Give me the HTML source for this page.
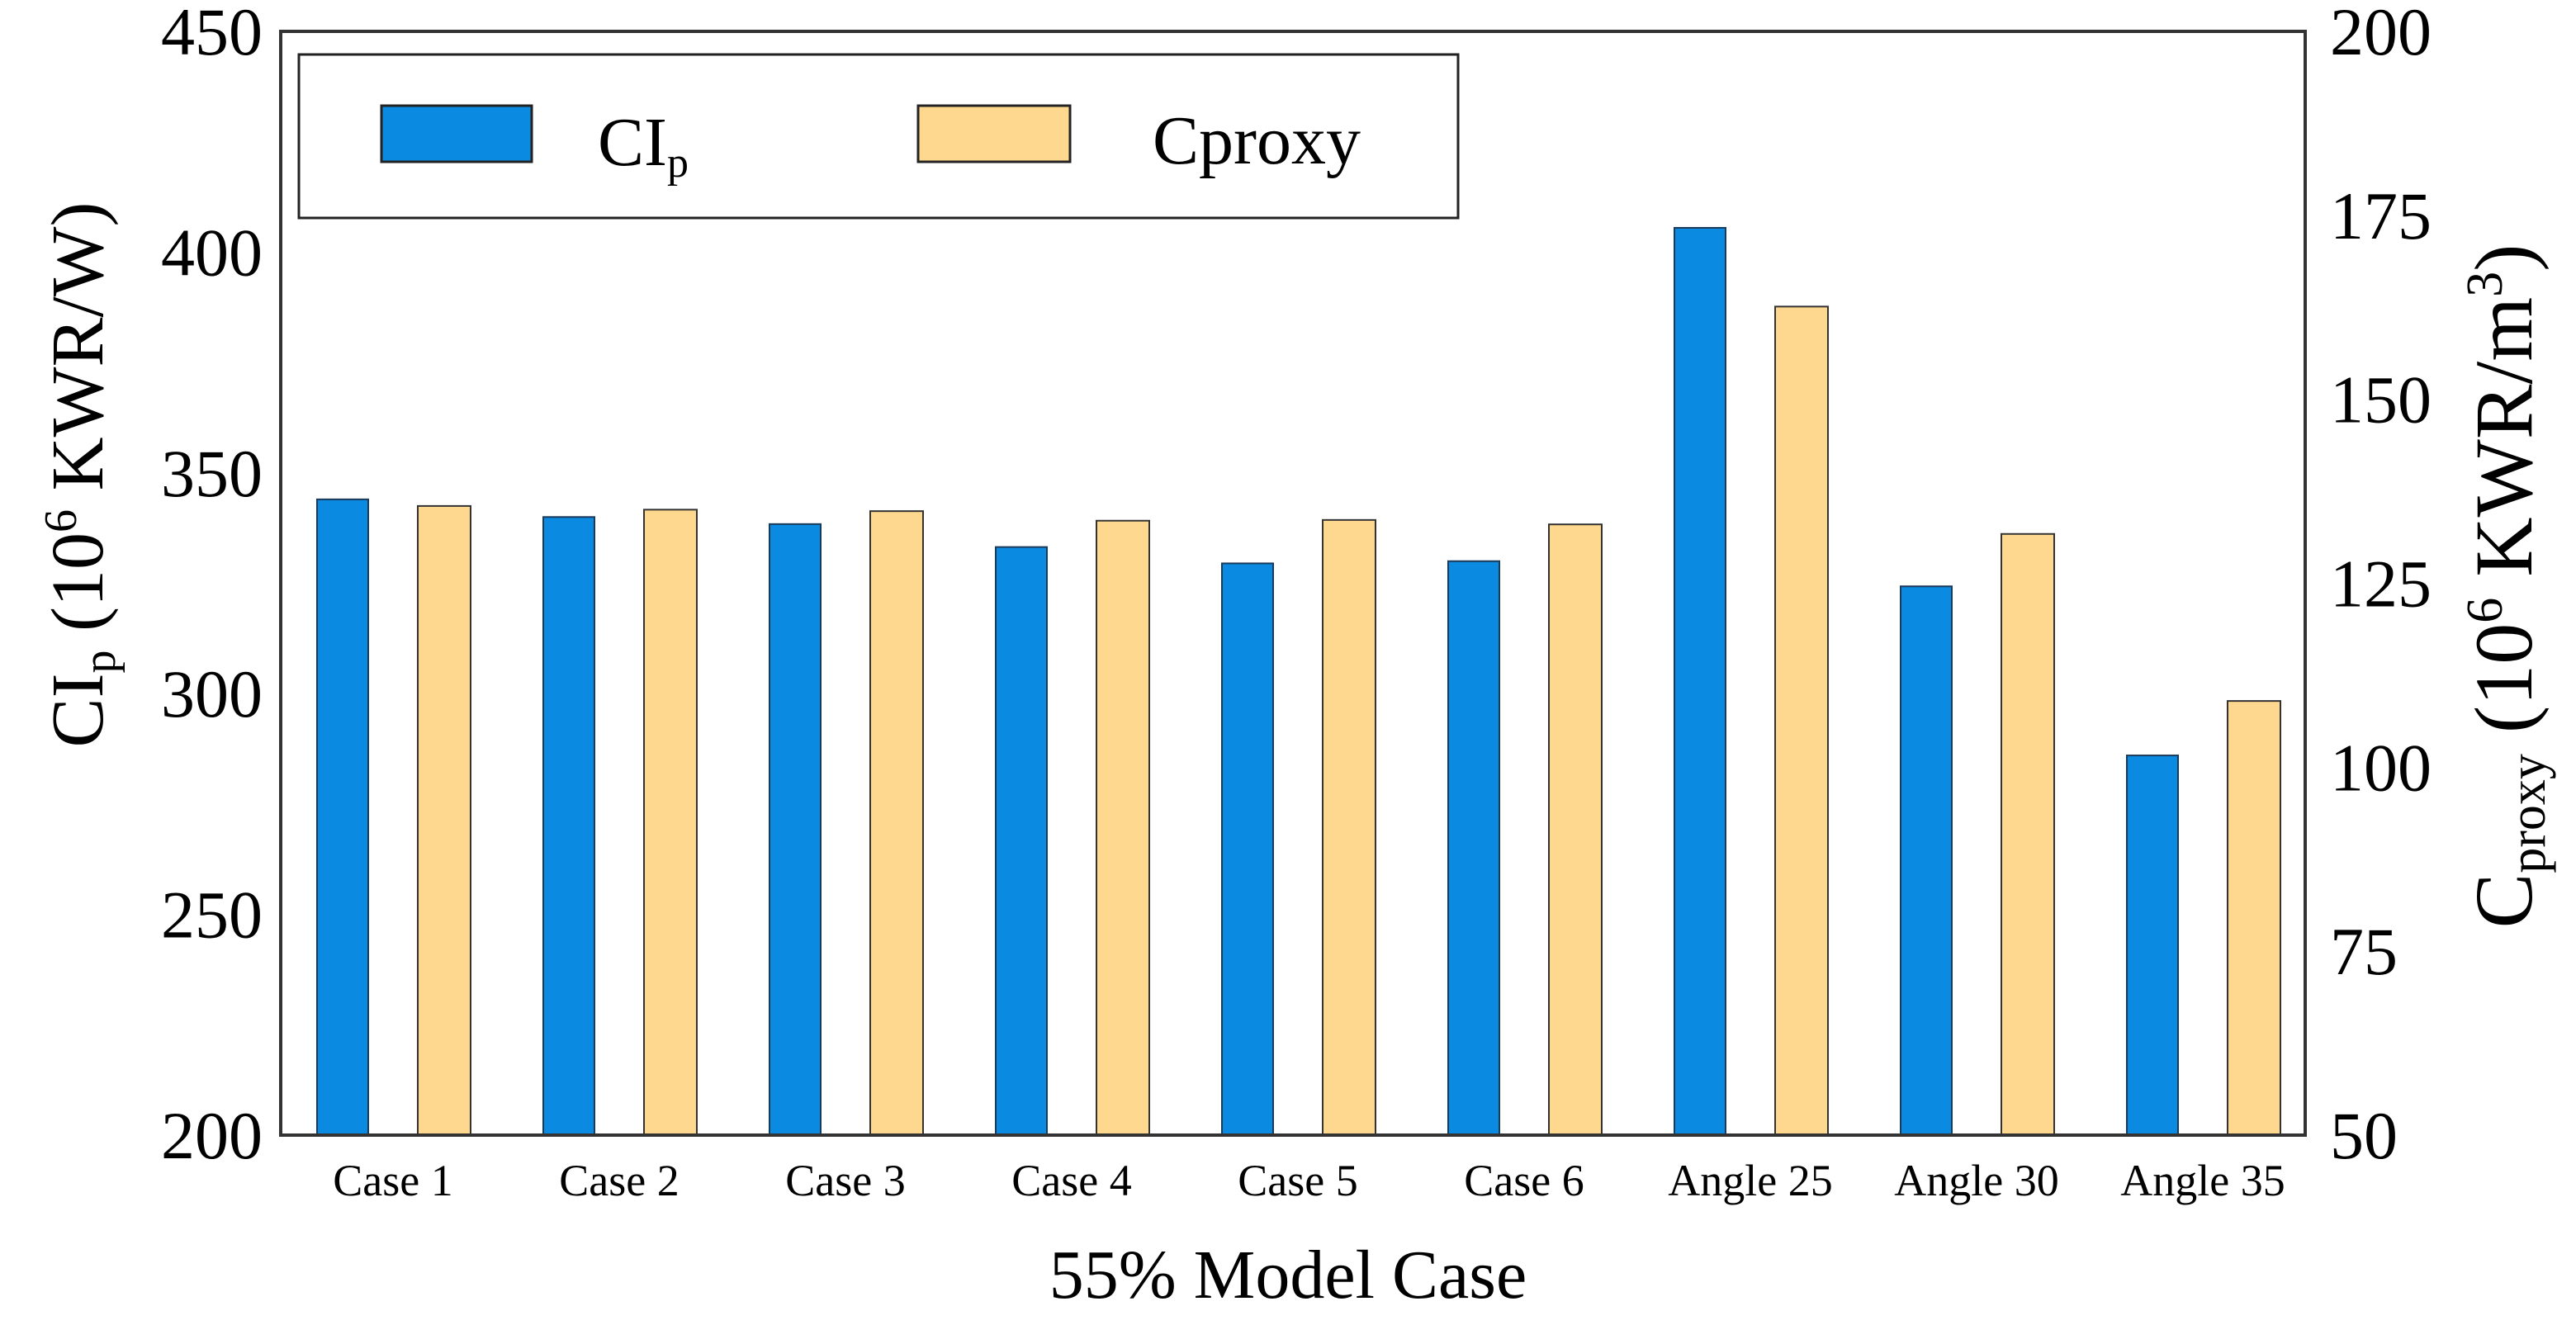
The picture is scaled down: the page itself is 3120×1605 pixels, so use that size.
<!DOCTYPE html>
<html><head><meta charset="utf-8"><style>
html,body{margin:0;padding:0;background:#fff;}
svg{display:block;font-family:"Liberation Serif",serif;}
</style></head><body>
<svg id="chart" width="3120" height="1605" viewBox="0 0 3120 1605" xmlns="http://www.w3.org/2000/svg">
<g id="bars"></g>
<rect x="340" y="38" width="2452" height="1337" fill="none" stroke="#333" stroke-width="4"/>
<g id="ticks"></g>
<g>
<rect x="362" y="66" width="1404" height="198" fill="#fff" stroke="#222" stroke-width="3"/>
<rect x="462" y="128" width="182" height="68" fill="#0a8ae0" stroke="#222" stroke-width="3"/>
<text x="724" y="200" font-size="84">CI<tspan font-size="52" dy="14">p</tspan></text>
<rect x="1112" y="128" width="184" height="68" fill="#fdd88e" stroke="#222" stroke-width="3"/>
<text x="1396" y="198" font-size="84">Cproxy</text>
</g>
<text x="1560" y="1572" font-size="84" text-anchor="middle">55% Model Case</text>
<text transform="translate(124,575) rotate(-90)" font-size="90" text-anchor="middle">CI<tspan font-size="56" dy="15">p</tspan><tspan dy="-15">  (10</tspan><tspan font-size="56" dy="-32">6</tspan><tspan dy="32"> KWR/W)</tspan></text>
<text transform="translate(3066,710) rotate(-90)" font-size="100" text-anchor="middle">C<tspan font-size="62" dy="16">proxy</tspan><tspan dy="-16">  (10</tspan><tspan font-size="62" dy="-36">6</tspan><tspan dy="36"> KWR/m</tspan><tspan font-size="62" dy="-36">3</tspan><tspan dy="36">)</tspan></text>
</svg>
<script>
const categories = ["Case 1","Case 2","Case 3","Case 4","Case 5","Case 6","Angle 25","Angle 30","Angle 35"];
const cipValues = [344, 340, 338.4, 333.2, 329.5, 330, 405.5, 324.3, 286];
const cproxyValues = [135.5, 135, 134.8, 133.5, 133.6, 133, 162.6, 131.7, 109];
const leftTicks = [200, 250, 300, 350, 400, 450];
const rightTicks = [50, 75, 100, 125, 150, 175, 200];

const NS = "http://www.w3.org/2000/svg";
const L = 340, R = 2792, T = 38, B = 1375;
const yLeft = v => B - (v - 200) / 250 * (B - T);
const yRight = v => B - (v - 50) / 150 * (B - T);
const xCenter = i => 476 + i * 274;
const barsG = document.getElementById("bars");
const ticksG = document.getElementById("ticks");
function mk(tag, attrs, parent) {
  const e = document.createElementNS(NS, tag);
  for (const k in attrs) e.setAttribute(k, attrs[k]);
  parent.appendChild(e);
  return e;
}
categories.forEach((c, i) => {
  const cx = xCenter(i);
  const y1 = yLeft(cipValues[i]);
  const b1 = mk("rect", {x: cx - 92, y: y1, width: 62, height: B - y1, fill: "#0a8ae0", stroke: "#1a3a5a", "stroke-width": 2}, barsG);
  
  
  const y2 = yRight(cproxyValues[i]);
  const b2 = mk("rect", {x: cx + 30, y: y2, width: 64, height: B - y2, fill: "#fdd88e", stroke: "#333", "stroke-width": 2}, barsG);
  
  
  const t = mk("text", {x: cx, y: 1448, "font-size": 54, "text-anchor": "middle"}, ticksG);
  t.textContent = c;
  
  
});
leftTicks.forEach(v => {
  const t = mk("text", {x: 318, y: yLeft(v) + 28, "font-size": 82, "text-anchor": "end"}, ticksG);
  t.textContent = v;
  
  
});
rightTicks.forEach(v => {
  const t = mk("text", {x: 2822, y: yRight(v) + 28, "font-size": 82, "text-anchor": "start"}, ticksG);
  t.textContent = v;
  
  
});
</script>
</body></html>
